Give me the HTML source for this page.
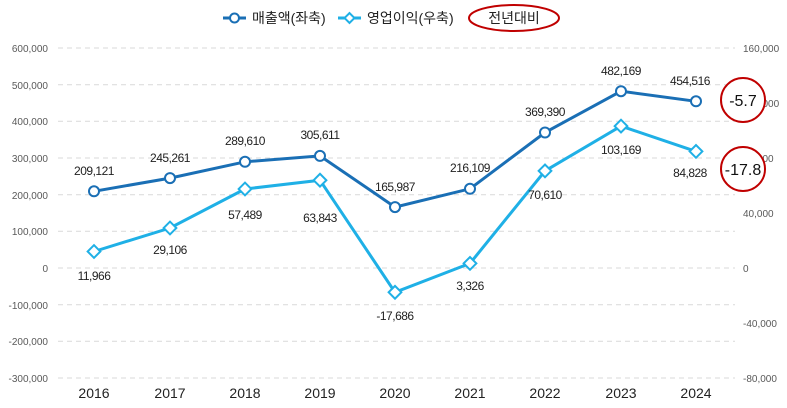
<!DOCTYPE html>
<html><head><meta charset="utf-8"><style>
body{margin:0;background:#fff;}
svg{display:block;font-family:"Liberation Sans","Noto Sans CJK KR",sans-serif;}
</style></head><body>
<svg width="787" height="408" viewBox="0 0 787 408">
<g stroke="#d9d9d9" stroke-dasharray="5,4" stroke-width="1">
<line x1="58" y1="48" x2="735" y2="48"/><line x1="58" y1="84.7" x2="735" y2="84.7"/>
<line x1="58" y1="121.3" x2="735" y2="121.3"/><line x1="58" y1="158" x2="735" y2="158"/>
<line x1="58" y1="194.7" x2="735" y2="194.7"/><line x1="58" y1="231.3" x2="735" y2="231.3"/>
<line x1="58" y1="268" x2="735" y2="268"/><line x1="58" y1="304.7" x2="735" y2="304.7"/>
<line x1="58" y1="341.3" x2="735" y2="341.3"/><line x1="58" y1="378" x2="735" y2="378"/>
</g>
<g font-size="10" fill="#595959" text-anchor="end">
<text x="48" y="52">600,000</text><text x="48" y="89">500,000</text><text x="48" y="125">400,000</text>
<text x="48" y="162">300,000</text><text x="48" y="199">200,000</text><text x="48" y="235">100,000</text>
<text x="48" y="272">0</text><text x="48" y="309">-100,000</text><text x="48" y="345">-200,000</text><text x="48" y="382">-300,000</text>
</g>
<g font-size="10" fill="#595959" text-anchor="start">
<text x="743" y="52">160,000</text><text x="743" y="107">120,000</text><text x="743" y="162">80,000</text>
<text x="743" y="217">40,000</text><text x="743" y="272">0</text><text x="743" y="327">-40,000</text><text x="743" y="382">-80,000</text>
</g>
<g font-size="14" fill="#222" text-anchor="middle">
<text x="94" y="398">2016</text><text x="170" y="398">2017</text><text x="245" y="398">2018</text>
<text x="320" y="398">2019</text><text x="395" y="398">2020</text><text x="470" y="398">2021</text>
<text x="545" y="398">2022</text><text x="621" y="398">2023</text><text x="696" y="398">2024</text>
</g>
<polyline fill="none" stroke="#1a6fb5" stroke-width="3" points="94,191.3 170,178.1 245,161.8 320,155.9 395,207.1 470,188.8 545,132.5 621,91.2 696,101.3"/>
<g fill="#fff" stroke="#1a6fb5" stroke-width="2">
<circle cx="94" cy="191.3" r="5"/><circle cx="170" cy="178.1" r="5"/><circle cx="245" cy="161.8" r="5"/>
<circle cx="320" cy="155.9" r="5"/><circle cx="395" cy="207.1" r="5"/><circle cx="470" cy="188.8" r="5"/>
<circle cx="545" cy="132.5" r="5"/><circle cx="621" cy="91.2" r="5"/><circle cx="696" cy="101.3" r="5"/>
</g>
<polyline fill="none" stroke="#1fb0e6" stroke-width="3" points="94,251.5 170,228 245,189 320,180.2 395,292.3 470,263.4 545,170.9 621,126.1 696,151.4"/>
<g fill="#fff" stroke="#1fb0e6" stroke-width="2">
<rect x="89.5" y="247" width="9" height="9" transform="rotate(45 94 251.5)"/>
<rect x="165.5" y="223.5" width="9" height="9" transform="rotate(45 170 228)"/>
<rect x="240.5" y="184.5" width="9" height="9" transform="rotate(45 245 189)"/>
<rect x="315.5" y="175.7" width="9" height="9" transform="rotate(45 320 180.2)"/>
<rect x="390.5" y="287.8" width="9" height="9" transform="rotate(45 395 292.3)"/>
<rect x="465.5" y="258.9" width="9" height="9" transform="rotate(45 470 263.4)"/>
<rect x="540.5" y="166.4" width="9" height="9" transform="rotate(45 545 170.9)"/>
<rect x="616.5" y="121.6" width="9" height="9" transform="rotate(45 621 126.1)"/>
<rect x="691.5" y="146.9" width="9" height="9" transform="rotate(45 696 151.4)"/>
</g>
<g font-size="12" fill="#222" text-anchor="middle" letter-spacing="-0.5">
<text x="94" y="175">209,121</text><text x="170" y="162">245,261</text><text x="245" y="145">289,610</text>
<text x="320" y="139">305,611</text><text x="395" y="191">165,987</text><text x="470" y="172">216,109</text>
<text x="545" y="116">369,390</text><text x="621" y="75">482,169</text><text x="690" y="85">454,516</text>
<text x="94" y="280">11,966</text><text x="170" y="254">29,106</text><text x="245" y="219">57,489</text>
<text x="320" y="222">63,843</text><text x="395" y="320">-17,686</text><text x="470" y="290">3,326</text>
<text x="545" y="199">70,610</text><text x="621" y="154">103,169</text><text x="690" y="177">84,828</text>
</g>
<g fill="#fff" stroke="#c00000" stroke-width="2">
<circle cx="743" cy="100" r="22"/><circle cx="743" cy="169" r="22"/>
</g>
<g font-size="16" fill="#111" text-anchor="middle">
<text x="743" y="106">-5.7</text><text x="743" y="175">-17.8</text>
</g>
<line x1="223" y1="18" x2="246" y2="18" stroke="#1a6fb5" stroke-width="3"/>
<circle cx="234.5" cy="18" r="4.5" fill="#fff" stroke="#1a6fb5" stroke-width="2"/>
<text x="252" y="23" font-size="14" fill="#222">매출액(좌축)</text>
<line x1="338" y1="18" x2="361" y2="18" stroke="#1fb0e6" stroke-width="3"/>
<rect x="346" y="14.5" width="7" height="7" fill="#fff" stroke="#1fb0e6" stroke-width="2" transform="rotate(45 349.5 18)"/>
<text x="367" y="23" font-size="14" fill="#222">영업이익(우축)</text>
<ellipse cx="514" cy="18" rx="45" ry="13" fill="#fff" stroke="#c00000" stroke-width="2"/>
<text x="514" y="23" font-size="14" fill="#222" text-anchor="middle">전년대비</text>
</svg>
</body></html>
